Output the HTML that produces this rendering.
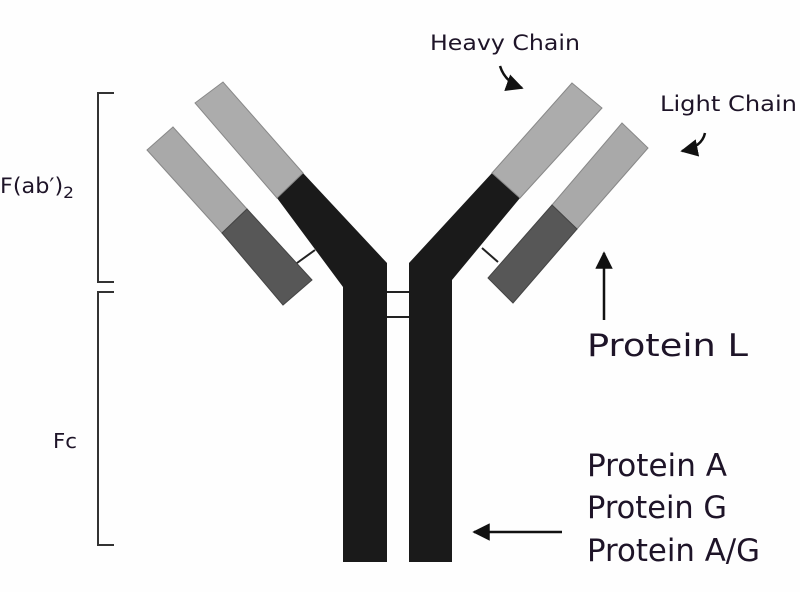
<!DOCTYPE html>
<html><head><style>
html,body{margin:0;padding:0;background:#fefefe;}
svg{display:block;}
text{font-family:"DejaVu Sans","Liberation Sans",sans-serif;fill:#1e1428;}
</style></head><body>
<svg width="800" height="592" viewBox="0 0 800 592" xmlns="http://www.w3.org/2000/svg">
<defs>
<marker id="ah" viewBox="0 0 10 10" refX="9" refY="5" markerWidth="7" markerHeight="7" orient="auto-start-reverse">
<path d="M0,0 L10,5 L0,10 z" fill="#111"/></marker>
</defs>
<line x1="297" y1="263" x2="315" y2="250" stroke="#222" stroke-width="2"/>
<line x1="482" y1="248" x2="498" y2="262" stroke="#222" stroke-width="2"/>
<line x1="385" y1="292" x2="412" y2="292" stroke="#222" stroke-width="2"/>
<line x1="385" y1="317" x2="412" y2="317" stroke="#222" stroke-width="2"/>
<polygon points="303,173 387,263 387,562 343,562 343,287 277,198" fill="#1a1a1a"/>
<polygon points="195,103 223,82 303,173 277,198" fill="#acacac" stroke="#888" stroke-width="1"/>
<polygon points="147,150 173,127 247,209 222,233" fill="#a9a9a9" stroke="#888" stroke-width="1"/>
<polygon points="222,233 247,209 312,280 283,305" fill="#575757" stroke="#444" stroke-width="1"/>
<polygon points="492,173 520,198 452,280 452,562 409,562 409,263" fill="#1a1a1a"/>
<polygon points="572,83 602,108 520,198 492,173" fill="#acacac" stroke="#888" stroke-width="1"/>
<polygon points="622,123 648,148 577,229 552,205" fill="#a9a9a9" stroke="#888" stroke-width="1"/>
<polygon points="552,205 577,229 513,303 488,278" fill="#575757" stroke="#444" stroke-width="1"/>
<path d="M114,93 H98 V282 H114" fill="none" stroke="#333" stroke-width="2"/>
<path d="M114,292 H98 V545 H114" fill="none" stroke="#333" stroke-width="2"/>
<text x="0" y="193" font-size="21" textLength="74" lengthAdjust="spacingAndGlyphs">F(ab′)<tspan font-size="16" dy="5">2</tspan></text>
<text x="53" y="448" font-size="20" textLength="24" lengthAdjust="spacingAndGlyphs">Fc</text>
<text x="430" y="50" font-size="21.5" textLength="150" lengthAdjust="spacingAndGlyphs">Heavy Chain</text>
<path d="M500,66 Q505,82 522,88" fill="none" stroke="#111" stroke-width="2.5" marker-end="url(#ah)"/>
<text x="660" y="111" font-size="21.5" textLength="137" lengthAdjust="spacingAndGlyphs">Light Chain</text>
<path d="M705,133 Q702,147 682,151" fill="none" stroke="#111" stroke-width="2.5" marker-end="url(#ah)"/>
<line x1="604" y1="320" x2="604" y2="253" stroke="#111" stroke-width="2.5" marker-end="url(#ah)"/>
<text x="587" y="356" font-size="31" textLength="161" lengthAdjust="spacingAndGlyphs">Protein L</text>
<line x1="562" y1="532" x2="474" y2="532" stroke="#111" stroke-width="2.5" marker-end="url(#ah)"/>
<text x="587" y="476" font-size="31" textLength="140" lengthAdjust="spacingAndGlyphs">Protein A</text>
<text x="587" y="518" font-size="31" textLength="140" lengthAdjust="spacingAndGlyphs">Protein G</text>
<text x="587" y="561" font-size="31" textLength="173" lengthAdjust="spacingAndGlyphs">Protein A/G</text>
</svg>
</body></html>
